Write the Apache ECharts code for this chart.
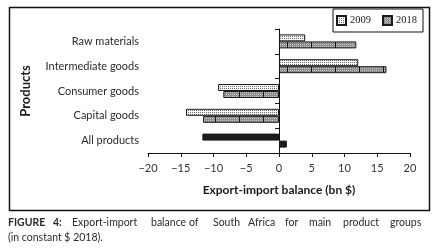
<!DOCTYPE html>
<html>
<head>
<meta charset="utf-8">
<script src="https://cdn.jsdelivr.net/npm/echarts@6/dist/echarts.min.js"></script>
<style>
  html, body { margin: 0; padding: 0; background: #fff; }
  #main { width: 439px; height: 251px; }
</style>
</head>
<body>
<div id="main"></div>
<script>
// categories & values (bn $)
var categories = ['Raw materials', 'Intermediate goods', 'Consumer goods', 'Capital goods', 'All products'];
var values2009 = [4.0, 12.1, -9.3, -14.2, -11.7];
var values2018 = [11.8, 16.4, -8.5, -11.6, 1.2];
var seriesNames = ['2009', '2018'];
var xTicks = [-20, -15, -10, -5, 0, 5, 10, 15, 20];

var FONT = 'Lato, "Noto Sans", sans-serif';

// small canvas tiles to mimic the print hatching
var makeTile = function(kind) {
	var c = document.createElement('canvas');
	var ctx = c.getContext('2d');
	if (kind === 'dots') {
		c.width = 2; c.height = 2;
		ctx.fillStyle = '#f6f6f6';
		ctx.fillRect(0, 0, 2, 2);
		ctx.fillStyle = '#707070';
		ctx.fillRect(0, 0, 1, 1);
	} else {
		c.width = 24; c.height = 2;
		ctx.fillStyle = '#8e8e8e';
		ctx.fillRect(0, 0, 24, 2);
		ctx.fillStyle = '#c4c4c4';
		for (var i = 0; i < 24; i += 2) { ctx.fillRect(i, 0, 1, 1); }
		ctx.fillStyle = '#111';
		ctx.fillRect(23, 0, 1, 2);
	}
	return { image: c, repeat: 'repeat' };
};

var fill2009 = makeTile('dots');
var fill2018 = makeTile('hatch');

// "All products" bars are printed solid
var toData = function(arr) {
	var out = [];
	for (var i = 0; i < arr.length; i++) {
		if (categories[i] === 'All products') {
			out.push({ value: arr[i], itemStyle: { color: '#1c1c1c' } });
		} else {
			out.push(arr[i]);
		}
	}
	return out;
};

// caption words, justified like the printed line
var captionWords = [
	['FIGURE', 8, true], ['4:', 53, true], ['Export-import', 72], ['balance', 151], ['of', 189],
	['South', 213], ['Africa', 248], ['for', 285], ['main', 309], ['product', 343], ['groups', 390]
];
var graphics = [{
	type: 'rect', left: 7, top: 5,
	shape: { width: 420, height: 203 },
	style: { fill: 'none', stroke: '#111', lineWidth: 1.5 },
	silent: true
}];
for (var k = 0; k < captionWords.length; k++) {
	graphics.push({
		type: 'text', x: captionWords[k][1], y: 217,
		style: {
			text: captionWords[k][0], fill: '#2a2a2a',
			font: (captionWords[k][2] ? 'bold ' : '') + '10.5px ' + FONT
		}
	});
}
graphics.push({
	type: 'text', x: 8, y: 232,
	style: { text: '(in constant $ 2018).', fill: '#2a2a2a', font: '10.5px ' + FONT }
});

var option = {
	animation: false,
	backgroundColor: '#fff',
	textStyle: { fontFamily: FONT },
	grid: { left: 148, right: 29, top: 29, bottom: 98 },
	legend: {
		data: seriesNames,
		right: 16, top: 9,
		orient: 'horizontal',
		icon: 'rect',
		itemWidth: 9, itemHeight: 9, itemGap: 11,
		padding: [6, 6, 6, 3],
		borderColor: '#111', borderWidth: 1,
		textStyle: { fontFamily: '"Liberation Serif", serif', fontSize: 10.5, color: '#222', padding: [0, 0, 0, -1] }
	},
	xAxis: {
		type: 'value',
		min: -20, max: 20, interval: 5,
		name: 'Export-import balance (bn $)',
		nameLocation: 'middle', nameGap: 31,
		nameTextStyle: { fontWeight: 'bold', fontSize: 12, color: '#1a1a1a', fontFamily: FONT },
		axisLine: { show: true, lineStyle: { color: '#111', width: 1 } },
		axisTick: { show: true, length: 4, lineStyle: { color: '#111' } },
		axisLabel: {
			fontSize: 11, color: '#333', margin: 10,
			formatter: function(v) { return v < 0 ? '\u2212' + Math.abs(v) : String(v); }
		},
		splitLine: { show: false }
	},
	yAxis: {
		type: 'category',
		data: categories,
		inverse: true,
		name: 'Products',
		nameLocation: 'middle', nameGap: 116, nameRotate: 90,
		nameTextStyle: { fontWeight: 'bold', fontSize: 13, color: '#1a1a1a', fontFamily: FONT },
		axisLine: { show: true, lineStyle: { color: '#111', width: 1 } },
		axisTick: { show: true, length: 4, lineStyle: { color: '#111' } },
		axisLabel: { fontSize: 11, color: '#2a2a2a', margin: 9 }
	},
	series: [
		{
			name: seriesNames[0], type: 'bar',
			data: toData(values2009),
			barWidth: 7, barGap: '0%',
			itemStyle: { color: fill2009, borderColor: '#1a1a1a', borderWidth: 1 },
			markLine: {
				silent: true, symbol: 'none',
				label: { show: false },
				lineStyle: { color: '#111', type: [4, 2], width: 1 },
				data: [{ xAxis: 0 }]
			}
		},
		{
			name: seriesNames[1], type: 'bar',
			data: toData(values2018),
			barWidth: 7, barGap: '0%',
			itemStyle: { color: fill2018, borderColor: '#1a1a1a', borderWidth: 1 }
		}
	],
	graphic: graphics
};

var myChart = echarts.init(document.getElementById('main'), null, { renderer: 'canvas' });
myChart.setOption(option);
</script>
</body>
</html>
